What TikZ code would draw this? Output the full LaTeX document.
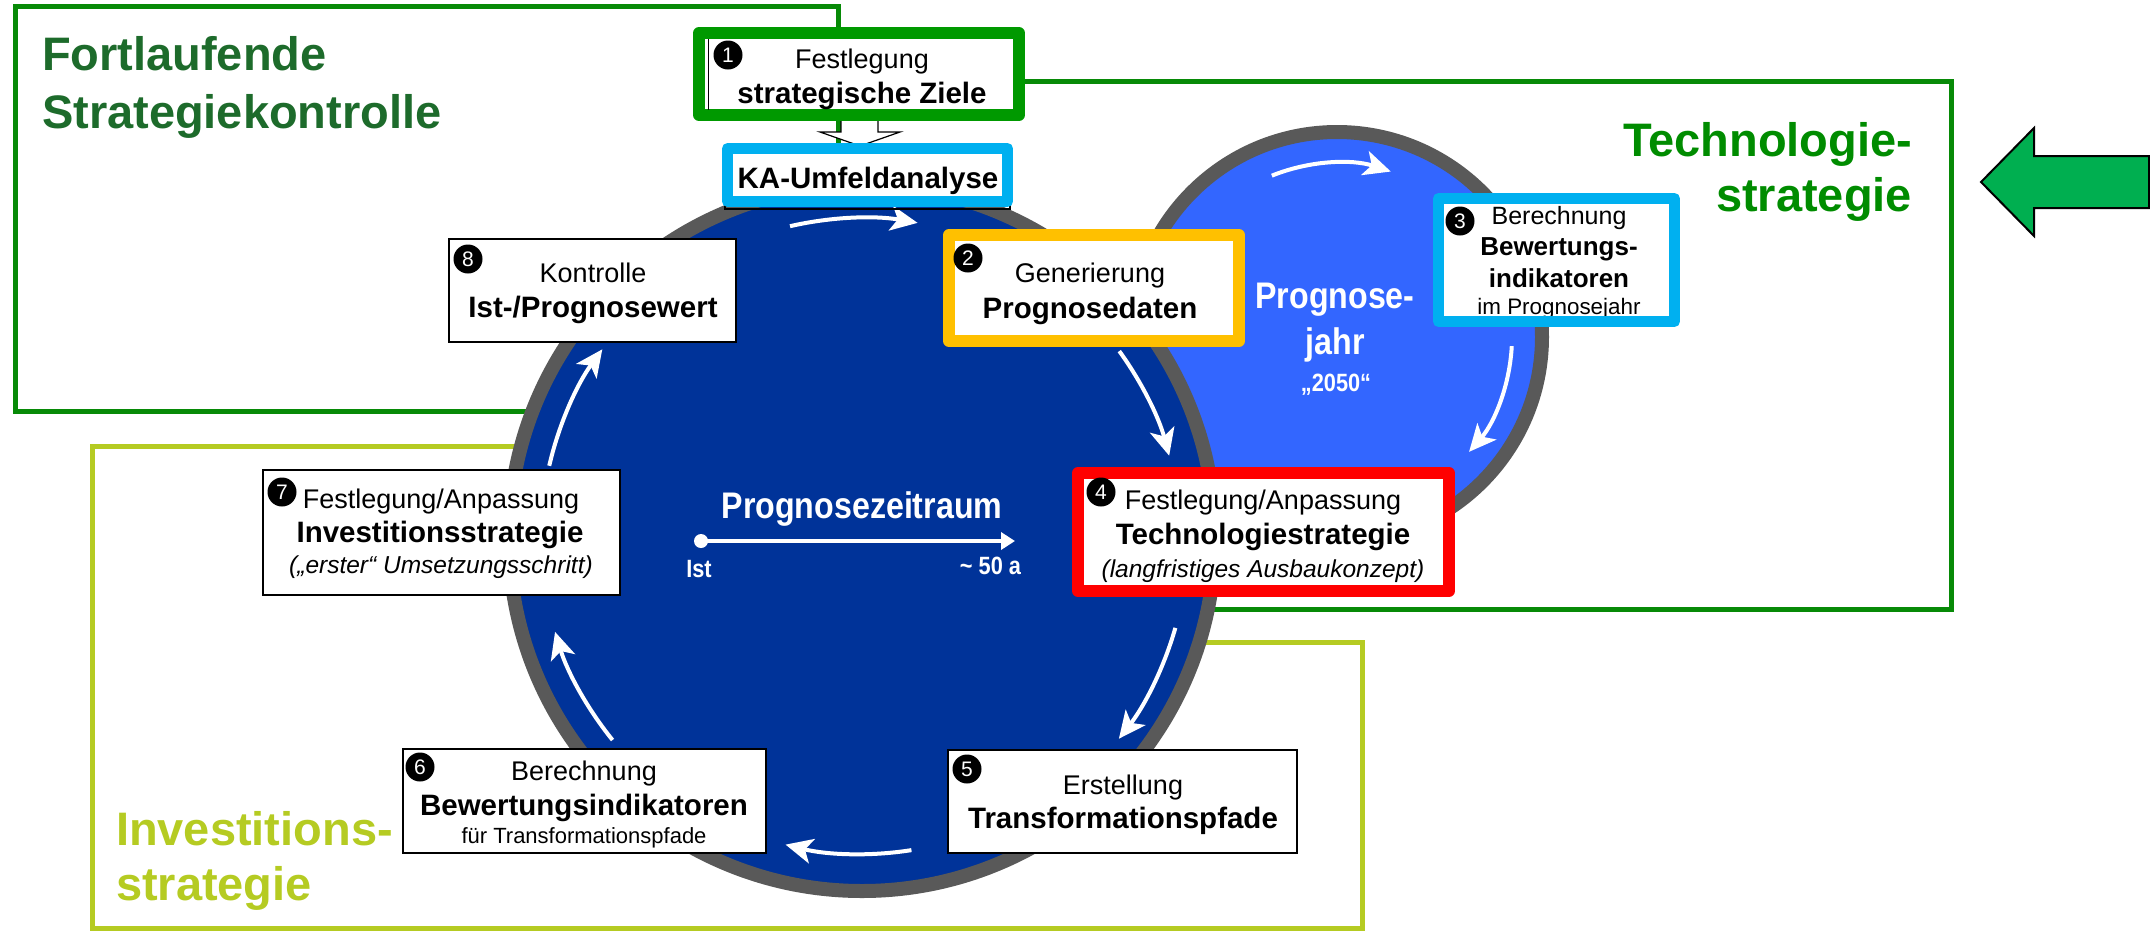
\documentclass[tikz,border=0pt]{standalone}
\usepackage{fontspec}
\setmainfont{Liberation Sans}
\newfontfamily\condensed[FakeStretch=0.87]{Liberation Sans}
\usetikzlibrary{arrows.meta}
\definecolor{dkblue}{HTML}{003399}
\definecolor{ltblue}{HTML}{3366FF}
\definecolor{ringgrey}{HTML}{595959}
\definecolor{frgreen}{HTML}{078A07}
\definecolor{txdark}{HTML}{1D6B2B}
\definecolor{txgreen}{HTML}{008C00}
\definecolor{boxgreen}{HTML}{009900}
\definecolor{limeg}{HTML}{B5CB22}
\definecolor{cyanb}{HTML}{00B0F0}
\definecolor{orangeb}{HTML}{FFC000}
\definecolor{redb}{HTML}{FF0000}
\definecolor{arrowgreen}{HTML}{00AF50}
\tikzset{
  lbl/.style={anchor=base, inner sep=0pt, outer sep=0pt},
  rg/.style={lbl, font=\fontsize{27}{30}\selectfont},
  bd/.style={lbl, font=\fontsize{29.5}{33}\selectfont\bfseries},
  itl/.style={lbl, font=\fontsize{24.5}{28}\selectfont\itshape},
  sm/.style={lbl, font=\fontsize{22}{25}\selectfont},
  big/.style={lbl, font=\fontsize{47}{50}\selectfont\bfseries},
  wt/.style={lbl, text=white},
  num/.style={circle, fill=black, text=white, inner sep=0pt, minimum size=29pt, font=\fontsize{21}{21}\selectfont},
  plainbox/.style={draw=black, fill=white, line width=2pt, inner sep=0pt, outer sep=0pt},
  thickbox/.style={fill=white, line width=12pt, line join=round, inner sep=0pt, outer sep=0pt},
  cyc/.style={draw=white, line width=4pt, -{Stealth[length=27pt,width=25pt,inset=7pt]}},
  frameline/.style={line width=5pt},
}
\begin{document}
\begin{tikzpicture}[x=1pt,y=-1pt]
\useasboundingbox (0,0) rectangle (2150,930);

% frames
\draw[frgreen, frameline] (15,6) rectangle (838,411);
\draw[frgreen, frameline] (1015,81) -- (1951,81) -- (1951,609) -- (1190,609);
\draw[limeg, frameline] (520,446) -- (92,446) -- (92,928) -- (1362,928) -- (1362,642) -- (1190,642);

% frame labels
\node[big, anchor=base west, text=txdark] (fl1) at (42,70) {Fortlaufende};
\node[big, anchor=base west, text=txdark] (fl2) at (42,128) {Strategiekontrolle};
\node[big, anchor=base east, text=txgreen] (tl1) at (1912,156) {Technologie-};
\node[big, anchor=base east, text=txgreen] (tl2) at (1912,211) {strategie};
\node[big, anchor=base west, text=limeg] (il1) at (116,845) {Investitions-};
\node[big, anchor=base west, text=limeg] (il2) at (116,900) {strategie};

% circles
\coordinate (CJ) at (1337,337);
\coordinate (CZ) at (862,538);
\draw[ringgrey, line width=14pt, fill=ltblue] (CJ) circle[radius=205];
\draw[ringgrey, line width=14pt, fill=dkblue] (CZ) circle[radius=353];

% cycle arrows (dark circle)
\draw[cyc] (CZ) ++(-103:320) arc[start angle=-103, end angle=-80, radius=320];
\draw[cyc] (CZ) ++(-36:318) arc[start angle=-36, end angle=-15, radius=318];
\draw[cyc] (CZ) ++(16:326) arc[start angle=16, end angle=38, radius=326];
\draw[cyc] (CZ) ++(81:316) arc[start angle=81, end angle=104, radius=316];
\draw[cyc] (CZ) ++(141:321) arc[start angle=141, end angle=163, radius=321];
\draw[cyc] (CZ) ++(193:321) arc[start angle=193, end angle=216, radius=321];
% cycle arrows (light circle)
\draw[cyc] (CJ) ++(-112:174) arc[start angle=-112, end angle=-72, radius=174];
\draw[cyc] (CJ) ++(3:175) arc[start angle=3, end angle=41, radius=175];

% texts in circles
\node[wt, font=\condensed\bfseries\fontsize{37}{40}\selectfont] (pz) at (862,518) {Prognosezeitraum};
\coordinate (ist) at (701,541);
\coordinate (fifty) at (1015,541);
\fill[white] (ist) circle[radius=7];
\draw[white, line width=3.5pt, -{Triangle[length=14pt,width=17pt]}] (ist) -- (fifty);
\node[wt, font=\condensed\bfseries\fontsize{25}{28}\selectfont] (istl) at (699,577) {Ist};
\node[wt, anchor=base east, font=\condensed\bfseries\fontsize{25}{28}\selectfont] (yrs) at (1021,574) {\textasciitilde{} 50 a};
\node[wt, font=\condensed\bfseries\fontsize{37}{40}\selectfont] (pj1) at (1335,308) {Prognose-};
\node[wt, font=\condensed\bfseries\fontsize{37}{40}\selectfont] (pj2) at (1335,354) {jahr};
\node[wt, font=\condensed\bfseries\fontsize{25}{28}\selectfont] (pj3) at (1336,391) {„2050“};

% white block arrow from box 1 to KA
\draw[black, line width=1.2pt, fill=white] (841,119) -- (841,132) -- (820,132) -- (860,146) -- (900,132) -- (878,132) -- (878,119) -- cycle;

% box 1
\node[thickbox, draw=boxgreen, minimum width=320pt, minimum height=82pt] (b1) at (859,74) {};
\draw[black, line width=1pt] (708,39) -- (708,110);
\node[num] (n1) at (728,55) {1};
\node[rg] (b1a) at (862,68) {Festlegung};
\node[bd] (b1b) at (862,103) {strategische Ziele};

% KA box
\draw[black, line width=1.5pt] (725,150) rectangle (1010,209);
\node[thickbox, draw=cyanb, line width=11pt, minimum width=280pt, minimum height=53pt] (ka) at (867.5,175) {};
\node[bd] (kat) at (868,188) {KA-Umfeldanalyse};

% box 2
\node[thickbox, draw=orangeb, minimum width=290pt, minimum height=106pt] (b2) at (1094,288) {};
\node[num] (n2) at (968,258) {2};
\node[rg] (b2a) at (1090,282) {Generierung};
\node[bd] (b2b) at (1090,318) {Prognosedaten};

% box 3
\node[thickbox, draw=none, minimum width=236pt, minimum height=123pt] (b3) at (1556.5,260) {};
\node[num] (n3) at (1460,221) {3};
\node[lbl, font=\fontsize{25}{28}\selectfont] (b3a) at (1559,224) {Berechnung};
\node[lbl, font=\fontsize{26}{29}\selectfont\bfseries] (b3b) at (1559,255) {Bewertungs-};
\node[lbl, font=\fontsize{26}{29}\selectfont\bfseries] (b3c) at (1559,287) {indikatoren};
\node[lbl, font=\fontsize{22.4}{25}\selectfont] (b3d) at (1559,314) {im Prognosejahr};
\draw[cyanb, line width=11pt, line join=round] (b3.north west) rectangle (b3.south east);

% box 4
\node[thickbox, draw=redb, minimum width=371pt, minimum height=118pt] (b4) at (1263.5,532) {};
\node[num] (n4) at (1101,492) {4};
\node[rg] (b4a) at (1263,509) {Festlegung/Anpassung};
\node[bd] (b4b) at (1263,544) {Technologiestrategie};
\node[itl] (b4c) at (1263,577) {(langfristiges Ausbaukonzept)};

% box 5
\node[plainbox, minimum width=349pt, minimum height=103pt] (b5) at (1122.5,801.5) {};
\node[num] (n5) at (967,769) {5};
\node[rg] (b5a) at (1123,794) {Erstellung};
\node[bd] (b5b) at (1123,828) {Transformationspfade};

% box 6
\node[plainbox, minimum width=363pt, minimum height=104pt] (b6) at (584.5,801) {};
\node[num] (n6) at (420,767) {6};
\node[rg] (b6a) at (584,780) {Berechnung};
\node[bd] (b6b) at (584,815) {Bewertungsindikatoren};
\node[sm] (b6c) at (584,843) {für Transformationspfade};

% box 7
\node[plainbox, minimum width=357pt, minimum height=125pt] (b7) at (441.5,532.5) {};
\node[num] (n7) at (282,492) {7};
\node[rg] (b7a) at (441,508) {Festlegung/Anpassung};
\node[bd] (b7b) at (440,542) {Investitionsstrategie};
\node[itl] (b7c) at (441,573) {(„erster“ Umsetzungsschritt)};

% box 8
\node[plainbox, minimum width=287pt, minimum height=103pt] (b8) at (592.5,290.5) {};
\node[num] (n8) at (468,259) {8};
\node[rg] (b8a) at (593,282) {Kontrolle};
\node[bd] (b8b) at (593,317) {Ist-/Prognosewert};

% green block arrow at right
\draw[black, line width=2pt, fill=arrowgreen] (2149,156) -- (2034,156) -- (2034,128) -- (1981,182) -- (2034,236) -- (2034,208) -- (2149,208) -- cycle;
\end{tikzpicture}
\end{document}
